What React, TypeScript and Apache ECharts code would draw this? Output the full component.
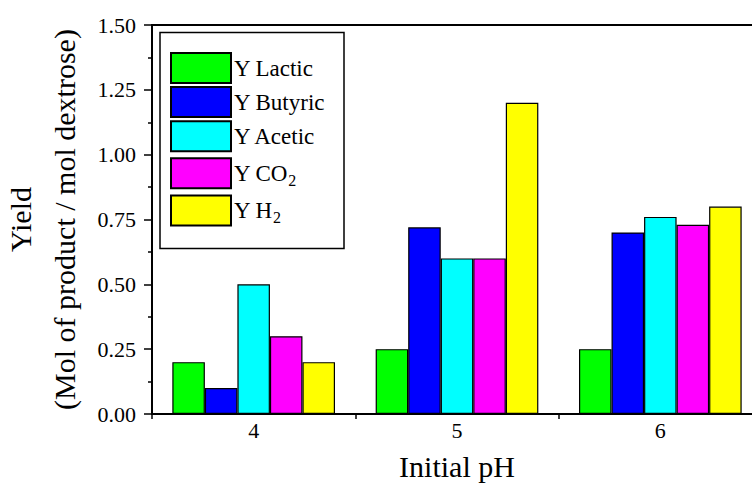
import React, { useEffect, useRef } from "react";
import * as echarts from "echarts";

const categories = ["4", "5", "6"];
const seriesNames = ["Y Lactic", "Y Butyric", "Y Acetic", "Y CO2", "Y H2"];
const lactic = [0.2, 0.25, 0.25];
const butyric = [0.1, 0.72, 0.7];
const acetic = [0.5, 0.6, 0.76];
const co2 = [0.3, 0.6, 0.73];
const h2 = [0.2, 1.2, 0.8];
const seriesValues = [lactic, butyric, acetic, co2, h2];
const colors = ["#00ff00", "#0000ff", "#00ffff", "#ff00ff", "#ffff00"];

const FONT = "Liberation Serif";

const legendBase = {
  orient: "vertical",
  left: 170,
  icon: "rect",
  itemWidth: 60,
  itemHeight: 30,
  itemGap: 2.1,
  padding: 0,
  formatter: (name: string) => {
    if (name === "Y CO2") return "Y CO{sub|2}";
    if (name === "Y H2") return "Y H{sub|2}";
    return name;
  },
  textStyle: {
    fontFamily: FONT,
    fontSize: 23,
    lineHeight: 30,
    color: "#000",
    padding: [0, 0, 0, -2],
    rich: {
      sub: { fontFamily: FONT, fontSize: 16, lineHeight: 12, color: "#000", verticalAlign: "bottom", padding: [18, 0, 0, 0] },
    },
  },
};

export default function App() {
  const ref = useRef<HTMLDivElement>(null);
  useEffect(() => {
    if (!ref.current) return;
    const chart = echarts.init(ref.current, undefined, { renderer: "svg" });
    chart.setOption({
      animation: false,
      backgroundColor: "#ffffff",
      textStyle: { fontFamily: FONT },
      grid: {
        left: 152,
        top: 25,
        width: 610,
        height: 389,
        containLabel: false,
        outerBoundsMode: "none",
        show: true,
        borderColor: "#000",
        borderWidth: 2,
        backgroundColor: "transparent",
      },
      legend: [
        { ...legendBase, top: 52, data: seriesNames.slice(0, 4) },
        { ...legendBase, top: 191.5, data: seriesNames.slice(4) },
      ],
      graphic: [
        {
          type: "rect",
          shape: { x: 160, y: 32.5, width: 184, height: 216 },
          style: { fill: "none", stroke: "#000", lineWidth: 1.5 },
          z: 10,
        },
      ],
      xAxis: {
        type: "category",
        data: categories,
        name: "Initial pH",
        nameLocation: "middle",
        nameGap: 37,
        nameTextStyle: { fontFamily: FONT, fontSize: 30, color: "#000" },
        axisLine: { lineStyle: { color: "#000", width: 2 } },
        axisTick: { show: true, alignWithLabel: false, length: 5, lineStyle: { color: "#000", width: 1.5 } },
        axisLabel: { fontFamily: FONT, fontSize: 22, color: "#000", margin: 5 },
      },
      yAxis: {
        type: "value",
        min: 0,
        max: 1.5,
        interval: 0.25,
        name: "Yield\n(Mol of product / mol dextrose)",
        nameLocation: "middle",
        nameGap: 65,
        nameTextStyle: { fontFamily: FONT, fontSize: 30, lineHeight: 44, color: "#000" },
        axisLine: { show: true, lineStyle: { color: "#000", width: 2 } },
        axisTick: { show: true, length: 8, lineStyle: { color: "#000", width: 1.5 } },
        minorTick: { show: true, splitNumber: 2, length: 4, lineStyle: { color: "#000", width: 1.5 } },
        splitLine: { show: false },
        axisLabel: {
          fontFamily: FONT,
          fontSize: 22,
          color: "#000",
          margin: 16,
          formatter: (v: number) => v.toFixed(2),
        },
      },
      series: seriesNames.map((name, i) => ({
        name,
        type: "bar",
        data: seriesValues[i],
        barGap: "0%",
        barCategoryGap: "20%",
        itemStyle: { color: colors[i], borderColor: "#000", borderWidth: 1.2 },
      })),
    });
    return () => chart.dispose();
  }, []);
  return <div ref={ref} style={{ position: "fixed", left: 0, top: 0, width: 752, height: 483 }} />;
}
